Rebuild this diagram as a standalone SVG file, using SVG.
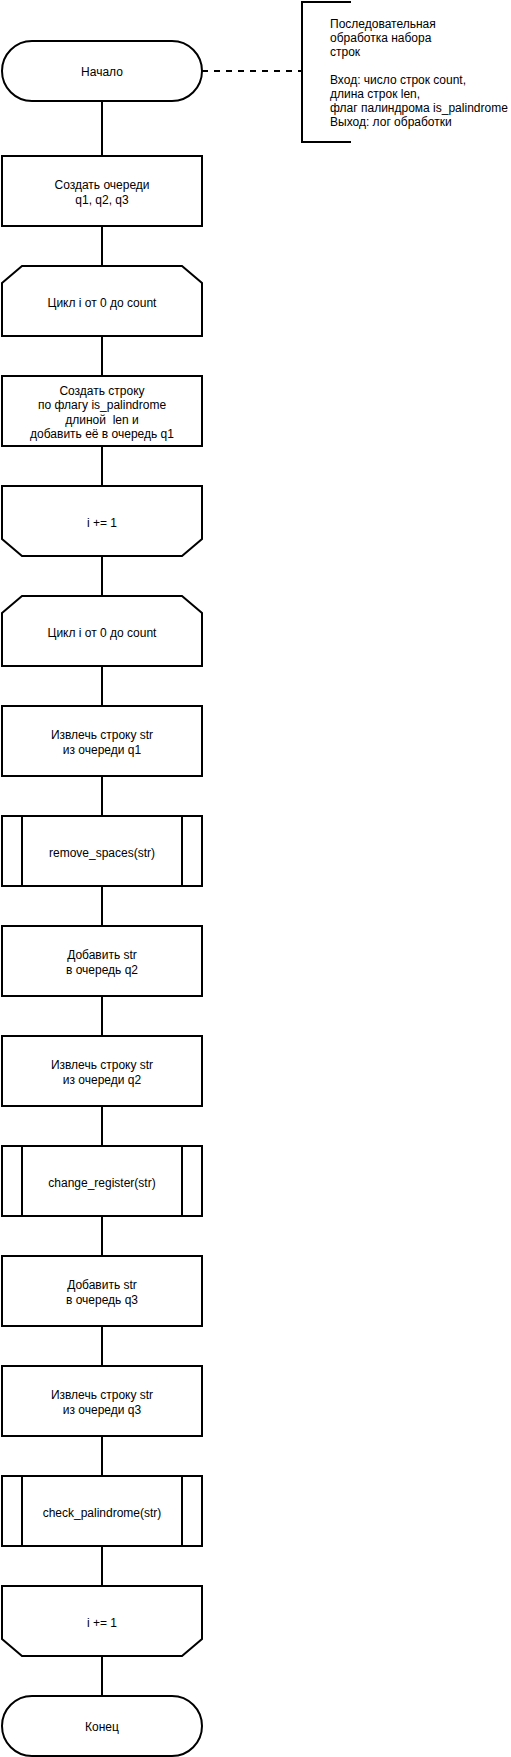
<svg xmlns="http://www.w3.org/2000/svg" width="511" height="1757" viewBox="0 0 511 1757">
<style>
.s{fill:#fff;stroke:#000;stroke-width:2}
.l{fill:none;stroke:#000;stroke-width:2}
text{font-family:"Liberation Sans",Arial,sans-serif;font-size:12px;fill:#000}
.c{text-anchor:middle}
</style>
<rect width="511" height="1757" fill="#fff"/>
<g id="connectors">
<path class="l" d="M102,101V156M102,226V266M102,336V376M102,446V486M102,556V596M102,666V706M102,776V816M102,886V926M102,996V1036M102,1106V1146M102,1216V1256M102,1326V1366M102,1436V1476M102,1546V1586M102,1656V1696"/>
<path class="l" d="M202,71H302" stroke-dasharray="6 6"/>
</g>
<g id="note">
<path class="l" d="M351,2H302V142H351"/>
<text x="330" y="27.5">Последовательная</text>
<text x="330" y="41.6">обработка набора</text>
<text x="330" y="55.7">строк</text>
<text x="330" y="83.9">Вход: число строк count,</text>
<text x="330" y="98">длина строк len,</text>
<text x="330" y="112.1">флаг палиндрома is_palindrome</text>
<text x="330" y="126.2">Выход: лог обработки</text>
</g>
<g id="start">
<rect class="s" x="2" y="41" width="200" height="60" rx="30"/>
<text class="c" x="102" y="76">Начало</text>
</g>
<g id="create_queues">
<rect class="s" x="2" y="156" width="200" height="70"/>
<text class="c" x="102" y="189">Создать очереди</text>
<text class="c" x="102" y="204">q1, q2, q3</text>
</g>
<g id="loop1_start">
<path class="s" d="M2,283L22,266H182L202,283V336H2Z"/>
<text class="c" x="102" y="306.5">Цикл i от 0 до count</text>
</g>
<g id="create_string">
<rect class="s" x="2" y="376" width="200" height="70"/>
<text class="c" x="102" y="394.5">Создать строку</text>
<text class="c" x="102" y="409">по флагу is_palindrome</text>
<text class="c" x="102" y="423.5" xml:space="preserve">длиной  len и</text>
<text class="c" x="102" y="438">добавить её в очередь q1</text>
</g>
<g id="loop1_end">
<path class="s" d="M2,486H202V539L182,556H22L2,539Z"/>
<text class="c" x="102" y="526.5">i += 1</text>
</g>
<g id="loop2_start">
<path class="s" d="M2,613L22,596H182L202,613V666H2Z"/>
<text class="c" x="102" y="636.5">Цикл i от 0 до count</text>
</g>
<g id="pop_q1">
<rect class="s" x="2" y="706" width="200" height="70"/>
<text class="c" x="102" y="739">Извлечь строку str</text>
<text class="c" x="102" y="754">из очереди q1</text>
</g>
<g id="remove_spaces">
<rect class="s" x="2" y="816" width="200" height="70"/>
<path class="l" d="M22,816V886M182,816V886"/>
<text class="c" x="102" y="856.5">remove_spaces(str)</text>
</g>
<g id="push_q2">
<rect class="s" x="2" y="926" width="200" height="70"/>
<text class="c" x="102" y="959">Добавить str</text>
<text class="c" x="102" y="974">в очередь q2</text>
</g>
<g id="pop_q2">
<rect class="s" x="2" y="1036" width="200" height="70"/>
<text class="c" x="102" y="1069">Извлечь строку str</text>
<text class="c" x="102" y="1084">из очереди q2</text>
</g>
<g id="change_register">
<rect class="s" x="2" y="1146" width="200" height="70"/>
<path class="l" d="M22,1146V1216M182,1146V1216"/>
<text class="c" x="102" y="1186.5">change_register(str)</text>
</g>
<g id="push_q3">
<rect class="s" x="2" y="1256" width="200" height="70"/>
<text class="c" x="102" y="1289">Добавить str</text>
<text class="c" x="102" y="1304">в очередь q3</text>
</g>
<g id="pop_q3">
<rect class="s" x="2" y="1366" width="200" height="70"/>
<text class="c" x="102" y="1399">Извлечь строку str</text>
<text class="c" x="102" y="1414">из очереди q3</text>
</g>
<g id="check_palindrome">
<rect class="s" x="2" y="1476" width="200" height="70"/>
<path class="l" d="M22,1476V1546M182,1476V1546"/>
<text class="c" x="102" y="1516.5">check_palindrome(str)</text>
</g>
<g id="loop2_end">
<path class="s" d="M2,1586H202V1639L182,1656H22L2,1639Z"/>
<text class="c" x="102" y="1626.5">i += 1</text>
</g>
<g id="end">
<rect class="s" x="2" y="1696" width="200" height="60" rx="30"/>
<text class="c" x="102" y="1731">Конец</text>
</g>
</svg>
